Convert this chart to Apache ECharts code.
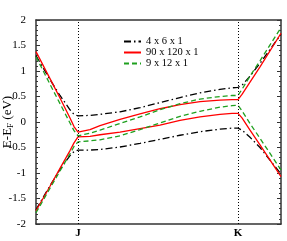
<!DOCTYPE html>
<html><head><meta charset="utf-8">
<script src="https://cdn.jsdelivr.net/npm/echarts@6/dist/echarts.min.js"></script>
<style>html,body{margin:0;padding:0;background:#fff}#c{width:287px;height:241px}</style>
</head><body><div id="c"></div>
<script>
// k-path positions (arbitrary units)
var kx = [0,0.14,0.24,0.34,0.38,0.42,0.54,0.64,0.84,1.04,1.24,1.44,1.64,1.84,1.96,2.02,2.06,2.14,2.24,2.45];
var kMax = 2.45;
var highSym = [{pos:0.42, label:'J'},{pos:2.02, label:'K'}];
var seriesNames = ['4 x 6 x 1','90 x 120 x 1','9 x 12 x 1'];
// 4 x 6 x 1
var blackUp = [1.3,0.83,0.52,0.24,0.15,0.12,0.13,0.15,0.2,0.28,0.38,0.48,0.57,0.64,0.67,0.68,0.72,0.9,1.15,1.72];
var blackDn = [-1.72,-1.25,-0.93,-0.66,-0.58,-0.55,-0.55,-0.54,-0.49,-0.42,-0.34,-0.26,-0.19,-0.14,-0.12,-0.12,-0.16,-0.3,-0.5,-1.02];
// 90 x 120 x 1
var redUp = [1.38,0.85,0.47,0.08,-0.09,-0.2,-0.15,-0.07,0.05,0.16,0.26,0.34,0.4,0.43,0.44,0.44,0.54,0.78,1.08,1.74];
var redDn = [-1.74,-1.26,-0.91,-0.56,-0.41,-0.29,-0.28,-0.25,-0.2,-0.13,-0.06,0.03,0.1,0.15,0.17,0.17,0.08,-0.16,-0.45,-1.07];
// 9 x 12 x 1
var greenUp = [1.28,0.74,0.36,-0.02,-0.17,-0.27,-0.22,-0.16,-0.03,0.1,0.24,0.36,0.45,0.5,0.52,0.52,0.64,0.9,1.2,1.85];
var greenDn = [-1.78,-1.3,-0.96,-0.62,-0.48,-0.39,-0.37,-0.35,-0.27,-0.15,-0.02,0.11,0.21,0.29,0.32,0.33,0.22,-0.03,-0.32,-0.94];
var yTicks = [-2,-1.5,-1,-0.5,0,0.5,1,1.5,2];

function pts(arr){ return arr.map(function(v,i){ return [kx[i], v]; }); }
var FONT = 'Liberation Serif';
var styles = [
  {color:'#000000', type:[7,3,1.5,3]},
  {color:'#ff0000', type:'solid'},
  {color:'#1fa01f', type:[5,3]}
];
var bandData = [[blackUp, blackDn],[redUp, redDn],[greenUp, greenDn]];
var series = [];
bandData.forEach(function(pair, si){
  pair.forEach(function(arr){
    series.push({
      name: seriesNames[si], type:'line', data: pts(arr), symbol:'none', silent:true,
      lineStyle:{color:styles[si].color, width:1.3, type:styles[si].type},
      itemStyle:{color:styles[si].color}
    });
  });
});
series[0].markLine = {
  silent:true, symbol:'none', label:{show:false},
  lineStyle:{color:'#000', type:[1,2], width:1},
  data: highSym.map(function(h){ return {xAxis:h.pos}; })
};
var chart = echarts.init(document.getElementById('c'));
chart.setOption({
  animation:false,
  grid:{left:36, right:6, top:20, bottom:17, containLabel:false, outerBoundsMode:'none'},
  legend:{
    orient:'vertical', left:123, top:36, itemWidth:17, itemHeight:10, itemGap:0, padding:0,
    data: seriesNames,
    itemStyle:{opacity:0},
    textStyle:{fontFamily:FONT, fontSize:10.5, color:'#000'}
  },
  xAxis:[{
    type:'value', min:0, max:kMax,
    axisLine:{onZero:false, lineStyle:{color:'#333', width:1.5}},
    axisTick:{show:false},
    splitLine:{show:false},
    axisLabel:{customValues: highSym.map(function(h){return h.pos;}),
      formatter:function(v){ for (var i=0;i<highSym.length;i++){ if (Math.abs(highSym[i].pos-v)<1e-6) return highSym[i].label; } return ''; },
      fontFamily:FONT, fontSize:11, fontWeight:'bold', color:'#000', margin:4}
  },{
    type:'value', min:0, max:kMax, position:'top',
    axisLine:{show:true, onZero:false, lineStyle:{color:'#333', width:1.5}},
    axisTick:{show:false}, axisLabel:{show:false}, splitLine:{show:false}
  }],
  yAxis:[{
    type:'value', min:-2, max:2, interval:0.5,
    name:'{n|E-E}{s|F}{n| (eV)}', nameLocation:'middle', nameGap:21, nameRotate:90, nameMoveOverlap:false,
    nameTextStyle:{rich:{n:{fontFamily:FONT, fontSize:13, color:'#000'}, s:{fontFamily:FONT, fontSize:9, color:'#000', verticalAlign:'bottom', padding:[6,0,0,0]}}},
    axisLine:{onZero:false, lineStyle:{color:'#333', width:1.5}},
    axisTick:{inside:true, length:4, lineStyle:{color:'#333'}},
    minorTick:{show:true, splitNumber:5, length:2, lineStyle:{color:'#333'}},
    splitLine:{show:false},
    axisLabel:{fontFamily:FONT, fontSize:11, color:'#000', margin:10,
      customValues: yTicks, formatter:function(v){ return String(v); }}
  },{
    type:'value', min:-2, max:2, interval:0.5, position:'right',
    axisLine:{show:true, onZero:false, lineStyle:{color:'#333', width:1.5}},
    axisTick:{inside:true, length:4, lineStyle:{color:'#333'}},
    minorTick:{show:true, splitNumber:5, length:2, lineStyle:{color:'#333'}},
    axisLabel:{show:false}, splitLine:{show:false}
  }],
  series: series
});
</script></body></html>
